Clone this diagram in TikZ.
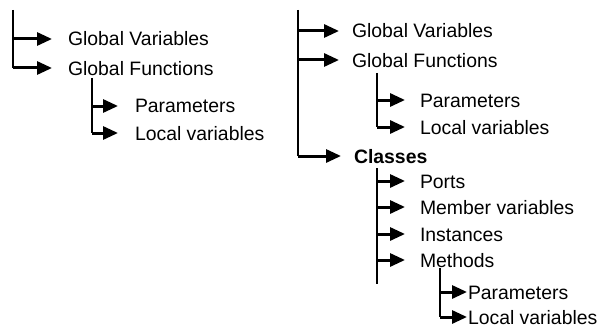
\documentclass[tikz,border=0pt]{standalone}
\usepackage{fontspec}
\setmainfont{Liberation Sans}
\usetikzlibrary{arrows.meta}
\tikzset{
  trunk/.style={line width=1.9pt},
  thicktrunk/.style={line width=2.6pt},
  branch/.style={line width=3pt, -{Triangle[length=15pt,width=13pt]}},
  item/.style={anchor=west, outer sep=0pt, inner ysep=0pt, inner xsep=#1,
    text height=14pt, text depth=0pt, font=\fontsize{19.4}{23}\selectfont},
  item/.default=15pt
}
\begin{document}
\begin{tikzpicture}[x=1pt,y=-1pt]
\useasboundingbox (0,0) rectangle (600,329);

% ---- left tree ----
\coordinate (l0) at (13,10);
\node[item=16pt] (lgv) at (52,39) {Global Variables};
\node[item=16pt] (lgf) at (52,68) {Global Functions};
\coordinate (l1) at (92,78);
\node[item=17pt] (lpa) at (118,106) {Parameters};
\node[item=17pt] (llv) at (118,133) {Local variables};

\draw[thicktrunk] (l0) -- (l0 |- lgf.west);
\draw[branch] (l0 |- lgv.west) -- (lgv.west);
\draw[branch] (l0 |- lgf.west) -- (lgf.west);
\draw[trunk] (l1) -- (l1 |- llv.west);
\draw[branch] (l1 |- lpa.west) -- (lpa.west);
\draw[branch] (l1 |- llv.west) -- (llv.west);

% ---- right tree ----
\coordinate (r0) at (298,10);
\node[item=13pt] (rgv) at (339,31) {Global Variables};
\node[item=13pt] (rgf) at (339,60) {Global Functions};
\node[item=13pt, font=\fontsize{19.4}{23}\selectfont\bfseries] (rcl) at (341,156) {Classes};

\coordinate (r1) at (377,73);
\node[item] (rpa) at (405,100) {Parameters};
\node[item] (rlv) at (405,127) {Local variables};

\coordinate (r2) at (377,168);
\coordinate (r2end) at (377,284);
\node[item] (rpo) at (405,181) {Ports};
\node[item] (rmv) at (405,207) {Member variables};
\node[item] (rin) at (405,234) {Instances};
\node[item] (rme) at (405,260) {Methods};

\coordinate (r3) at (440,268);
\node[item=1pt] (mpa) at (467,292) {Parameters};
\node[item=1pt] (mlv) at (467,317) {Local variables};

\draw[trunk] (r0) -- (r0 |- rcl.west);
\draw[branch] (r0 |- rgv.west) -- (rgv.west);
\draw[branch] (r0 |- rgf.west) -- (rgf.west);
\draw[branch] (r0 |- rcl.west) -- (rcl.west);

\draw[trunk] (r1) -- (r1 |- rlv.west);
\draw[branch] (r1 |- rpa.west) -- (rpa.west);
\draw[branch] (r1 |- rlv.west) -- (rlv.west);

\draw[trunk] (r2) -- (r2end);
\draw[branch] (r2 |- rpo.west) -- (rpo.west);
\draw[branch] (r2 |- rmv.west) -- (rmv.west);
\draw[branch] (r2 |- rin.west) -- (rin.west);
\draw[branch] (r2 |- rme.west) -- (rme.west);

\draw[trunk] (r3) -- (r3 |- mlv.west);
\draw[branch] (r3 |- mpa.west) -- (mpa.west);
\draw[branch] (r3 |- mlv.west) -- (mlv.west);
\end{tikzpicture}
\end{document}
